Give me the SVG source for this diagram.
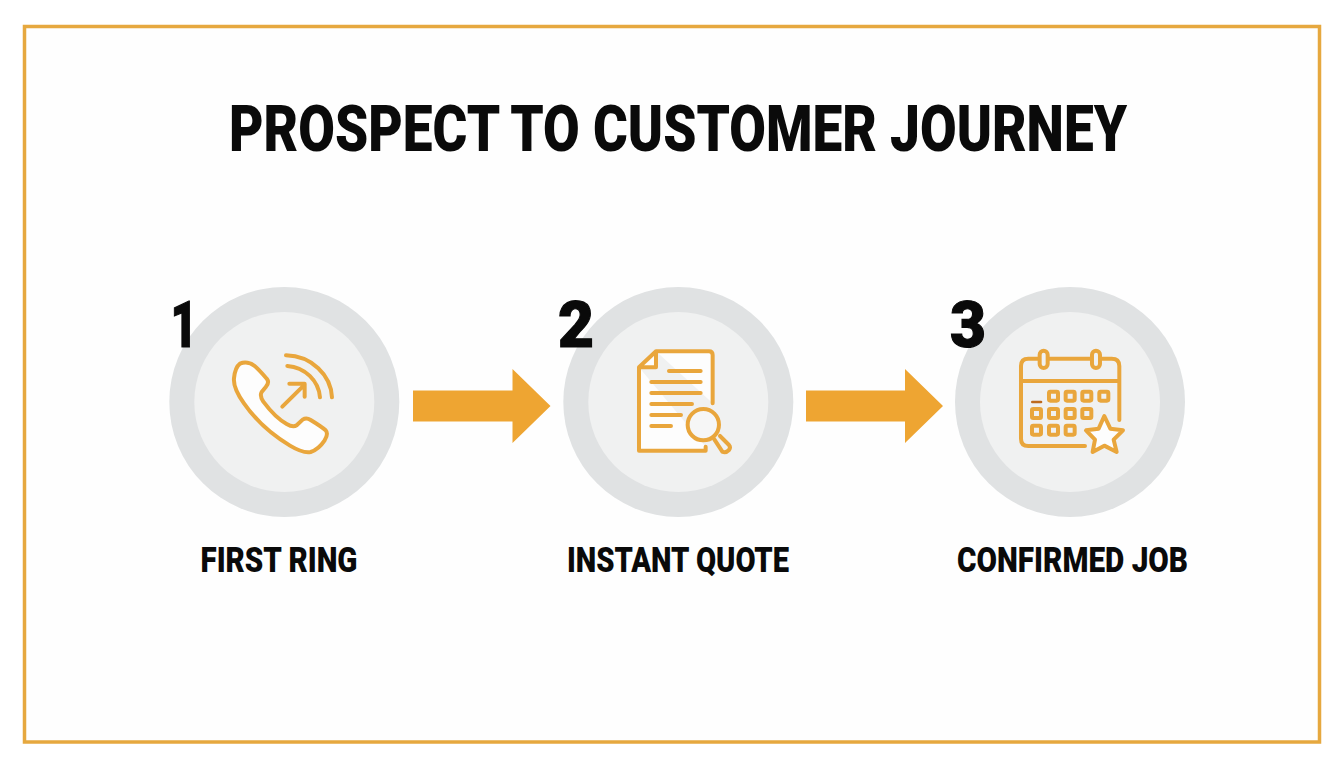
<svg xmlns="http://www.w3.org/2000/svg" width="1344" height="768" viewBox="0 0 1344 768">
<style>
.t{font-family:Roboto,"Liberation Sans",sans-serif;font-weight:900;fill:#0a0a0a}
.lab{font-size:35px;text-anchor:middle}
.num{font-size:65px;font-weight:900;text-anchor:middle;stroke:#0a0a0a;stroke-width:1.2}
.outer{fill:#e0e2e3}.inner{fill:#f0f1f1}
.ic{fill:none;stroke:#e9a63c;stroke-width:12;stroke-linecap:round;stroke-linejoin:round}
.wf{fill:#fdfdfd}
.arrow{fill:#eea532}
</style>
<rect width="1344" height="768" fill="#ffffff"/>
<rect x="24.500" y="26.500" width="1295" height="715.500" fill="#fefefe" stroke="#e6a83f" stroke-width="3.500"/>
<text id="title" class="t" x="678" y="151" font-size="65" text-anchor="middle" textLength="898" lengthAdjust="spacingAndGlyphs">PROSPECT TO CUSTOMER JOURNEY</text>
<g id="connectors">
<polygon class="arrow" points="413,390.500 512.500,390.500 512.500,369 550.500,406 512.500,443 512.500,421.500 413,421.500"/>
<polygon class="arrow" points="806,390.500 905,390.500 905,369 943,406 905,443 905,421.500 806,421.500"/>
</g>
<g id="node1">
<circle class="outer" cx="284.300" cy="402" r="115"/><circle class="inner" cx="284.300" cy="402" r="90"/>
<text class="t num" x="184" y="347" textLength="27" lengthAdjust="spacingAndGlyphs">1</text>
<g transform="translate(160,280) scale(.3333)">
<path class="ic wf" d="M240 251C254 245 272 248 284 258C296 268 308 282 321 297C326 304 325 312 318 320L305 336C300 344 303 354 310 365C330 392 355 418 380 432C392 439 402 441 410 436L428 419C436 414 444 415 452 420C470 431 486 441 497 451C503 458 502 468 494 481C484 496 470 510 452 516C436 519 415 512 390 497C345 470 290 425 252 370C232 342 220 315 222 295C224 275 228 260 240 251Z"/>
<path class="ic" d="M367 380L434 314M388 311L434 311L434 350"/>
<path class="ic" d="M382 258C435 262 476 302 480 352M378 226C455 228 513 285 516 352"/>
</g>
</g>
<g id="node2">
<circle class="outer" cx="678.300" cy="402" r="115"/><circle class="inner" cx="678.300" cy="402" r="90"/>
<text class="t num" x="576" y="347" textLength="36" lengthAdjust="spacingAndGlyphs">2</text>
<g transform="translate(555,280) scale(.3333)">
<path class="ic wf" d="M303 214H462Q473 214 473 225V370M252 262L303 214V262ZM252 262V512H452V500"/>
<path class="ic" d="M342 273H437M289 306H437M289 339H437M289 372H411M289 405H378M289 438H348"/>
<circle class="ic" cx="445" cy="434" r="47" style="fill:#f6f6f6"/>
<path class="ic" d="M478 478L502 515Q512 520 522 510Q528 502 522 495L495 468"/>
</g>
</g>
<g id="node3">
<circle class="outer" cx="1070" cy="402" r="115"/><circle class="inner" cx="1070" cy="402" r="90"/>
<text class="t num" x="968" y="347" textLength="36" lengthAdjust="spacingAndGlyphs">3</text>
<g transform="translate(945,280) scale(.3333)">
<path class="ic" d="M420 498H250Q228 498 228 476V258Q228 236 250 236H500Q523 236 523 258V420M228 303H523"/>
<rect class="ic" x="284" y="212" width="24" height="52" rx="12" style="fill:#f0f1f1"/>
<rect class="ic" x="441" y="212" width="24" height="52" rx="12" style="fill:#f0f1f1"/>
<path d="M262 366H288" stroke="#bd6a1e" stroke-width="8" fill="none" stroke-linecap="round"/>
<g class="ic">
<rect x="312" y="335" width="27" height="27" rx="4"/><rect x="362" y="335" width="27" height="27" rx="4"/><rect x="412" y="335" width="27" height="27" rx="4"/><rect x="463" y="335" width="27" height="27" rx="4"/>
<rect x="261" y="387" width="27" height="27" rx="4"/><rect x="312" y="387" width="27" height="27" rx="4"/><rect x="362" y="387" width="27" height="27" rx="4"/><rect x="412" y="387" width="27" height="27" rx="4"/>
<rect x="261" y="437" width="27" height="27" rx="4"/><rect x="312" y="437" width="27" height="27" rx="4"/><rect x="362" y="437" width="27" height="27" rx="4"/>
</g>
<path class="ic wf" d="M478 408L496 446L534 451L506 479L515 516L478 497L443 516L450 479L423 451L461 446Z"/>
</g>
</g>
<text class="t lab" x="279" y="571.500" textLength="157" lengthAdjust="spacingAndGlyphs">FIRST RING</text>
<text class="t lab" x="678" y="571.500" textLength="222" lengthAdjust="spacingAndGlyphs">INSTANT QUOTE</text>
<text class="t lab" x="1072.500" y="571.500" textLength="231" lengthAdjust="spacingAndGlyphs">CONFIRMED JOB</text>
</svg>
